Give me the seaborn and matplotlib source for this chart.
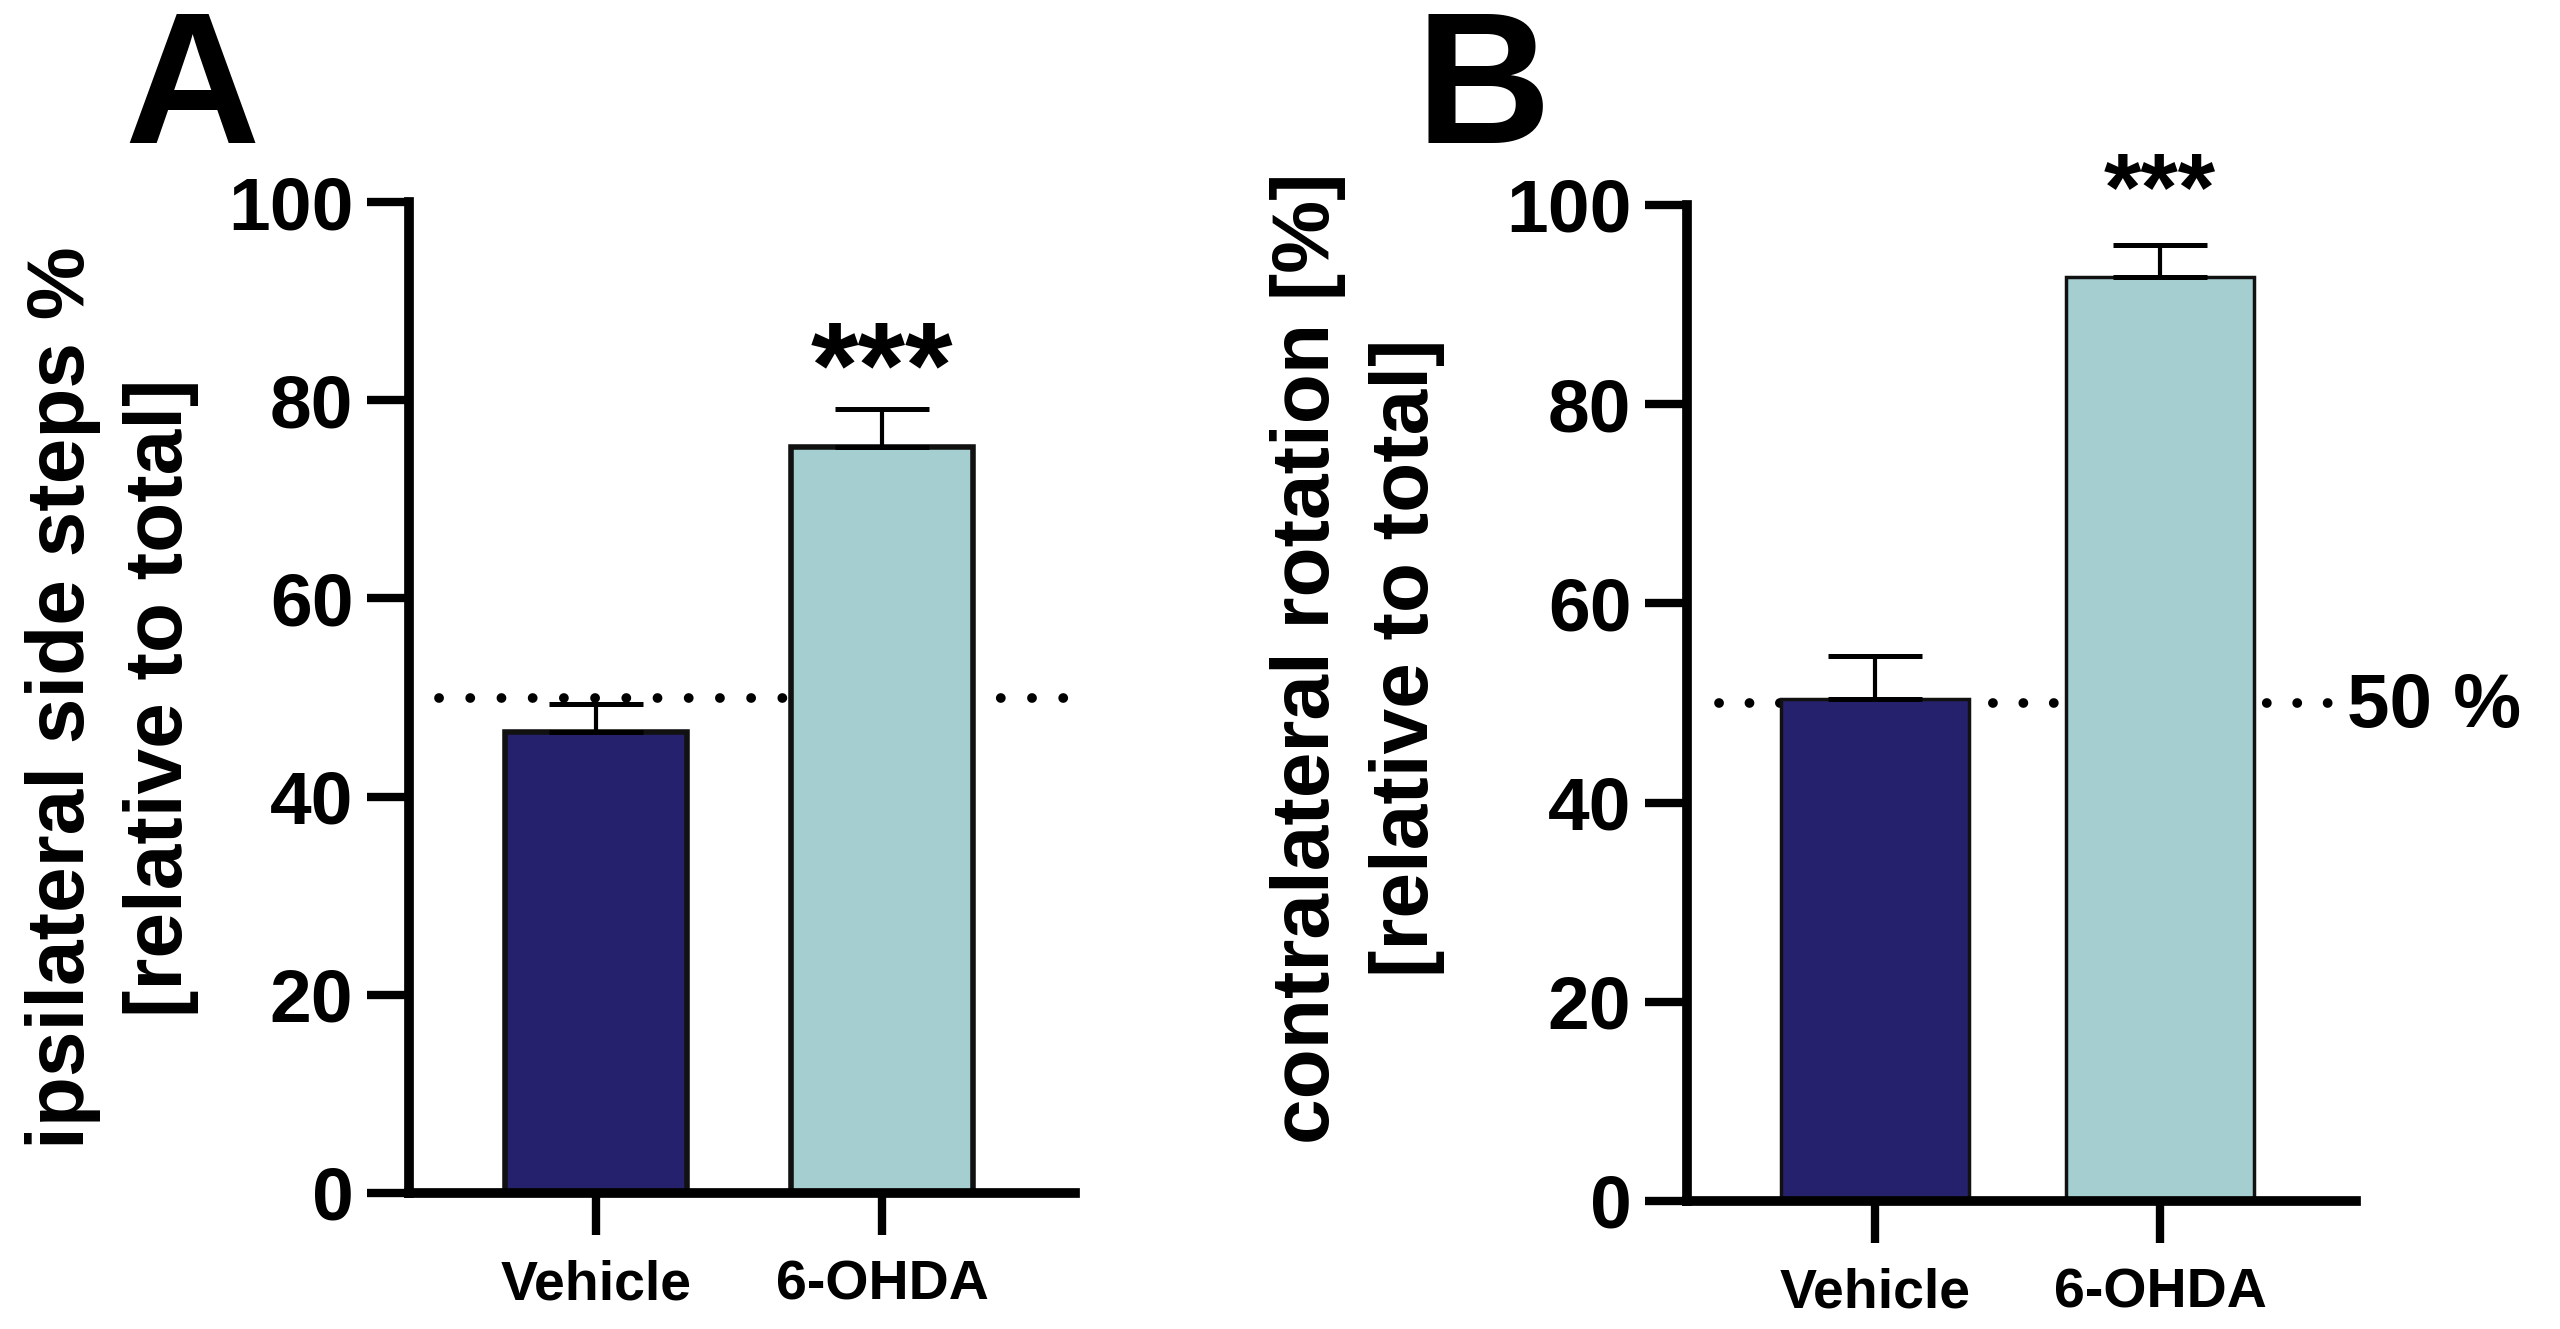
import numpy as np
import pandas as pd
import matplotlib
matplotlib.use("Agg")
import matplotlib.pyplot as plt
import seaborn as sns

# ---------------------------------------------------------------------------
# data
# ---------------------------------------------------------------------------
groups = ["Vehicle", "6-OHDA"]
bar_colors = ["#25216D", "#A5CED1"]

# A: ipsilateral side steps (% of total)
steps_mean = [46.5, 75.3]
steps_sem = [2.8, 3.8]

# B: contralateral rotation (% of total)
rot_mean = [50.4, 92.8]
rot_sem = [4.3, 3.2]

chance_level = 50
y_ticks = [0, 20, 40, 60, 80, 100]

sns.set_theme(style="white")
plt.rcParams["font.family"] = ["Liberation Sans", "DejaVu Sans"]
plt.rcParams["font.weight"] = "bold"
for key in ["text.color", "axes.labelcolor", "xtick.color", "ytick.color"]:
    plt.rcParams[key] = "black"

fig = plt.figure(figsize=(25.6, 13.29), dpi=100)
axA = fig.add_axes([409 / 2560, 136 / 1329, 666 / 2560, 991 / 1329])
axB = fig.add_axes([1687 / 2560, 128 / 1329, 669 / 2560, 996 / 1329])


def draw_panel(ax, means, sems, xlim, bar_w, edge_lw, line_x, dot_gap, ylabel,
               label_xy, star_y, star_size):
    df = pd.DataFrame({"group": groups, "value": means})
    sns.barplot(data=df, x="group", y="value", hue="group", palette=bar_colors,
                saturation=1, legend=False, width=bar_w, edgecolor="#111111",
                linewidth=edge_lw, errorbar=None, ax=ax, zorder=3)
    # only the upper half of the SEM, prism style
    ax.errorbar(range(len(groups)), means, yerr=[np.zeros(len(sems)), sems],
                fmt="none", ecolor="black", elinewidth=3, capsize=34,
                capthick=3.6, zorder=4, clip_on=False)
    ax.plot(line_x, [chance_level, chance_level], color="black", lw=7,
            linestyle=(0, (0.01, dot_gap)), dash_capstyle="round", zorder=1)

    ax.text(1, star_y, "***", ha="center", va="baseline", fontsize=star_size,
            fontweight="bold")

    ax.set_xlim(*xlim)
    ax.set_ylim(0, 100)
    ax.set_yticks(y_ticks)
    ax.set_xlabel("")
    ax.set_ylabel(ylabel, fontsize=59, fontweight="bold", linespacing=1.38)
    ax.yaxis.set_label_coords(*label_xy)

    sns.despine(ax=ax)
    for side in ["left", "bottom"]:
        ax.spines[side].set_linewidth(7)
        ax.spines[side].set_color("black")
        ax.spines[side].set_zorder(5)
    ax.tick_params(axis="y", left=True, length=30, width=6, pad=10,
                   labelsize=54)
    ax.tick_params(axis="x", bottom=True, length=30, width=6, pad=18,
                   labelsize=40)
    for lab in ax.get_xticklabels() + ax.get_yticklabels():
        lab.set_fontweight("bold")


draw_panel(axA, steps_mean, steps_sem, (-0.654, 1.675), 0.636, 4.0,
           [-0.55, 1.66], 3.2, "ipsilateral side steps %\n[relative to total]",
           (-0.315, 0.5), 79.4, 88)

draw_panel(axB, rot_mean, rot_sem, (-0.66, 1.688), 0.66, 2.5,
           [-0.547, 1.60], 3.12, "contralateral rotation [%]\n[relative to total]",
           (-0.362, 0.545), 98.6, 69)

axB.text(1.656, 49.5, "50 %", ha="left", va="center", fontsize=55,
         fontweight="bold")

fig.text(124 / 2560, 1 - 143 / 1329, "A", fontsize=135, fontweight="bold",
         ha="left", va="baseline")
fig.text(1415 / 2560, 1 - 143 / 1329, "B", fontsize=135, fontweight="bold",
         ha="left", va="baseline")

fig.savefig("out.png", dpi=100, facecolor="white")
